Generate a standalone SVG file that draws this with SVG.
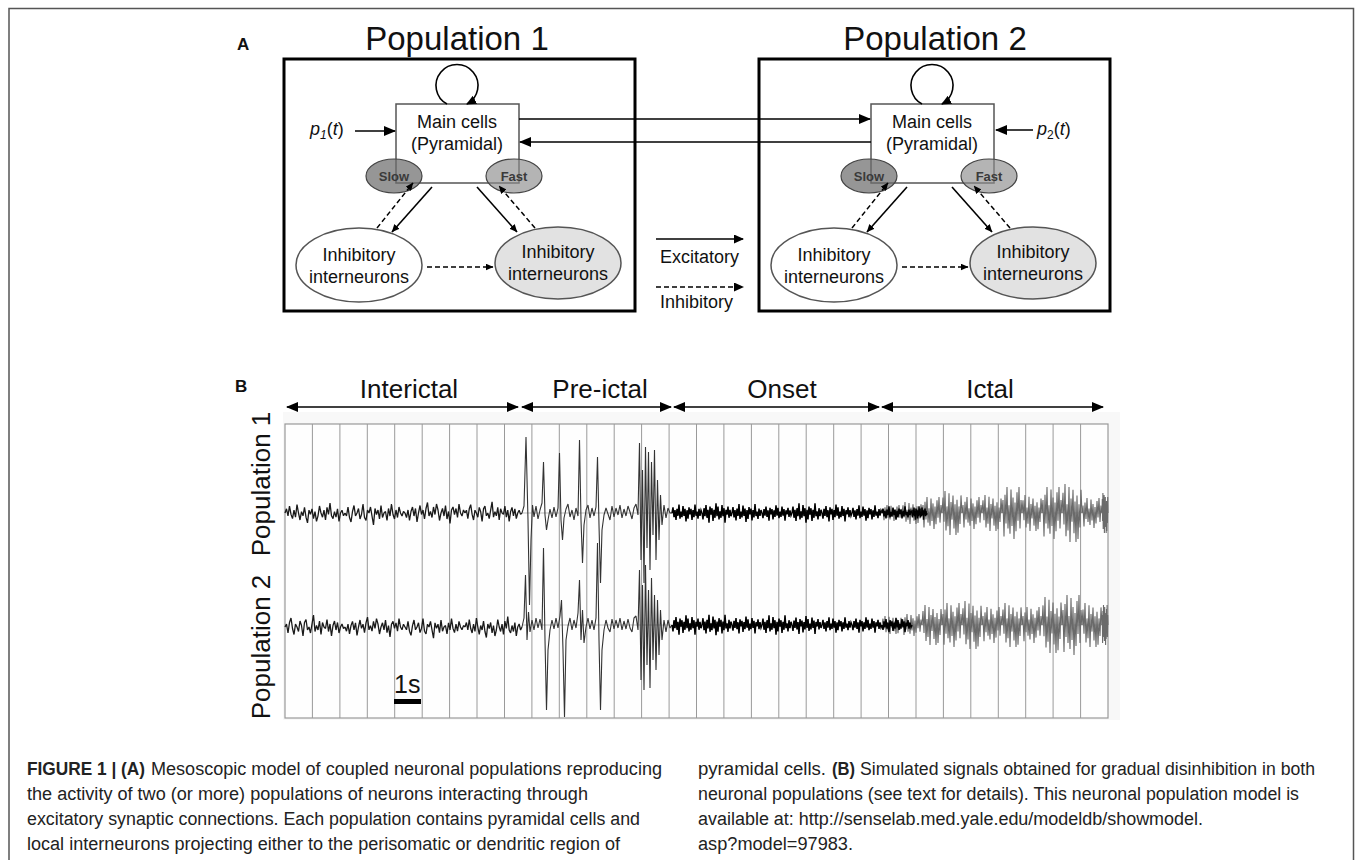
<svg xmlns="http://www.w3.org/2000/svg" xmlns:xlink="http://www.w3.org/1999/xlink" width="1355" height="860" viewBox="0 0 1355 860">
<style>
  text { font-family: "Liberation Sans", Arial, sans-serif; fill: #111; }
  .panel { font-weight: bold; font-size: 17px; }
  .title { font-size: 33px; text-anchor: middle; }
  .t18 { font-size: 18px; }
  .mid { text-anchor: middle; }
  .sf { font-size: 13px; font-weight: bold; fill: #3a3a3a; text-anchor: middle; }
  .phase { font-size: 26px; text-anchor: middle; }
  .cap { font-size: 18px; fill: #222; }
  .capb { font-size: 18px; fill: #222; font-weight: bold; }
  .popbox { fill: none; stroke: #000; stroke-width: 3; }
  .main { fill: #fff; stroke: #555; stroke-width: 1.5; }
  .inh { stroke: #555; stroke-width: 1.5; }
  .solid { fill: none; stroke: #000; stroke-width: 1.6; }
  .dash { fill: none; stroke: #000; stroke-width: 1.5; stroke-dasharray: 5 3; }
  .grid { fill: none; stroke: #9a9a9a; stroke-width: 1; }
  .tr { fill: none; stroke: #1a1a1a; stroke-width: 1.3; stroke-linejoin: bevel; }
  .sp { fill: none; stroke: #333; stroke-width: 1.1; stroke-linejoin: bevel; }
  .on { fill: none; stroke: #000; stroke-width: 1.5; }
  .ic { fill: none; stroke: #6a6a6a; stroke-width: 1.1; }
</style>
<defs>
  <marker id="ahL" markerUnits="userSpaceOnUse" markerWidth="12" markerHeight="10" refX="11" refY="5" orient="auto"><path d="M0,0 L12,5 L0,10 z" fill="#000"/></marker>
  <marker id="ahM" markerUnits="userSpaceOnUse" markerWidth="10" markerHeight="9" refX="9" refY="4.5" orient="auto"><path d="M0,0 L10,4.5 L0,9 z" fill="#000"/></marker>
  <marker id="ahS" markerUnits="userSpaceOnUse" markerWidth="8" markerHeight="7" refX="7.5" refY="3.5" orient="auto"><path d="M0,0 L8,3.5 L0,7 z" fill="#000"/></marker>
  <marker id="ahD" markerUnits="userSpaceOnUse" markerWidth="12" markerHeight="10" refX="11" refY="5" orient="auto-start-reverse"><path d="M0,0 L12,5 L0,10 z" fill="#000"/></marker>
  <path id="nA" vector-effect="non-scaling-stroke" d="M0,0 L1.5,-3 3,2 4.5,-5 6,1 7.5,4 9,-2 10.5,3 12,-6 13.5,0 15,5 16.5,-1 18,2 19.5,-4 21,3 22.5,7 24,-2 25.5,1 27,-3 28.5,4 30,-1 31.5,6 33,2 34.5,-5 36,0 37.5,3 39,-2 40.5,5 42,-4 43.5,1 45,-7 46.5,2 48,4 49.5,-1 51,3 52.5,-3 54,6 55.5,0 57,-2 58.5,2 60,0"/>
  <path id="nB" vector-effect="non-scaling-stroke" d="M0,0 L1.5,2 3,-4 4.5,3 6,6 7.5,-1 9,-5 10.5,2 12,0 13.5,-3 15,4 16.5,1 18,-6 19.5,3 21,5 22.5,-2 24,0 25.5,-4 27,2 28.5,8 30,-3 31.5,1 33,-2 34.5,4 36,-5 37.5,3 39,0 40.5,-1 42,5 43.5,-3 45,2 46.5,-6 48,1 49.5,4 51,-2 52.5,3 54,-4 55.5,0 57,2 58.5,-1 60,0"/>
  <path id="nC" vector-effect="non-scaling-stroke" d="M0,0 L1,-4 2,3 3,-2 4,5 5,-3 6,2 7,-6 8,4 9,-1 10,3 11,-5 12,2 13,-3 14,6 15,-2 16,4 17,-4 18,1 19,-3 20,5 21,-2 22,3 23,-6 24,2 25,-1 26,4 27,-3 28,2 29,-2 30,0"/>
  <path id="nD" vector-effect="non-scaling-stroke" d="M0,0 L1,-0.5 2,0.9 3,-0.7 4,0.4 5,-1 6,0.6 7,-0.3 8,0.8 9,-0.9 10,0.5 11,-0.6 12,1 13,-0.4 14,0.7 15,-0.8 16,0.3 17,-1 18,0.6 19,-0.5 20,0"/>
  <path id="nE" vector-effect="non-scaling-stroke" d="M0,0 L1,0.7 2,-0.4 3,1 4,-0.8 5,0.3 6,-0.6 7,0.9 8,-1 9,0.5 10,-0.3 11,0.8 12,-0.7 13,0.4 14,-1 15,0.6 16,-0.9 17,0.3 18,-0.5 19,0.8 20,0"/>
</defs>

<rect x="0" y="0" width="1355" height="860" fill="#fff"/>
<g id="frame"><path d="M9,860 V8.5 H1353.5 V860" fill="none" stroke="#555" stroke-width="1.5"/></g>

<!-- Panel A -->
<text class="panel" x="237" y="50">A</text>

<g id="pop1-box"><rect class="popbox" x="284" y="59" width="351" height="252"/><text class="title" x="457" y="50">Population 1</text></g>
<g id="pop2-box"><rect class="popbox" x="759" y="59" width="351" height="252"/><text class="title" x="935" y="50">Population 2</text></g>

<g id="pop1-main"><rect class="main" x="396" y="104" width="123" height="79"/><text class="t18 mid" x="457" y="128">Main cells</text><text class="t18 mid" x="457" y="150">(Pyramidal)</text></g>
<g id="pop2-main"><rect class="main" x="871" y="104" width="123" height="79"/><text class="t18 mid" x="932" y="128">Main cells</text><text class="t18 mid" x="932" y="150">(Pyramidal)</text></g>

<g id="pop1-slow"><ellipse cx="394" cy="176" rx="28" ry="17" fill="#6e6e6e" fill-opacity="0.72" stroke="#444" stroke-width="1.2"/><text class="sf" x="394" y="181">Slow</text></g>
<g id="pop1-fast"><ellipse cx="514" cy="176" rx="28" ry="17" fill="#8c8c8c" fill-opacity="0.65" stroke="#444" stroke-width="1.2"/><text class="sf" x="514" y="181">Fast</text></g>
<g id="pop2-slow"><ellipse cx="869" cy="176" rx="28" ry="17" fill="#6e6e6e" fill-opacity="0.72" stroke="#444" stroke-width="1.2"/><text class="sf" x="869" y="181">Slow</text></g>
<g id="pop2-fast"><ellipse cx="989" cy="176" rx="28" ry="17" fill="#8c8c8c" fill-opacity="0.65" stroke="#444" stroke-width="1.2"/><text class="sf" x="989" y="181">Fast</text></g>

<g id="pop1-inh-slow"><ellipse class="inh" cx="359" cy="265" rx="63" ry="37" fill="#fff"/><text class="t18 mid" x="359" y="261">Inhibitory</text><text class="t18 mid" x="359" y="283">interneurons</text></g>
<g id="pop1-inh-fast"><ellipse class="inh" cx="558" cy="263" rx="63" ry="36" fill="#e2e2e2"/><text class="t18 mid" x="558" y="258">Inhibitory</text><text class="t18 mid" x="558" y="280">interneurons</text></g>
<g id="pop2-inh-slow"><ellipse class="inh" cx="834" cy="265" rx="63" ry="37" fill="#fff"/><text class="t18 mid" x="834" y="261">Inhibitory</text><text class="t18 mid" x="834" y="283">interneurons</text></g>
<g id="pop2-inh-fast"><ellipse class="inh" cx="1033" cy="263" rx="63" ry="36" fill="#e2e2e2"/><text class="t18 mid" x="1033" y="258">Inhibitory</text><text class="t18 mid" x="1033" y="280">interneurons</text></g>

<g id="input-p1"><text class="t18" x="310" y="135"><tspan font-style="italic">p</tspan><tspan font-style="italic" font-size="12" dy="4">1</tspan><tspan dy="-4">(</tspan><tspan font-style="italic">t</tspan>)</text></g>
<g id="input-p2"><text class="t18" x="1037" y="135"><tspan font-style="italic">p</tspan><tspan font-size="12" dy="4">2</tspan><tspan dy="-4">(</tspan><tspan font-style="italic">t</tspan>)</text></g>

<g id="connectors">
  <path class="solid" d="M447,104 A21,21 0 1 1 467,104" marker-end="url(#ahM)"/>
  <path class="solid" d="M922,104 A21,21 0 1 1 942,104" marker-end="url(#ahM)"/>
  <line class="solid" x1="355" y1="131" x2="395" y2="131" marker-end="url(#ahL)"/>
  <line class="solid" x1="1033" y1="130" x2="996" y2="130" marker-end="url(#ahL)"/>
  <line class="solid" x1="519" y1="119" x2="870" y2="119" marker-end="url(#ahL)"/>
  <line class="solid" x1="871" y1="142" x2="520" y2="142" marker-end="url(#ahL)"/>
  <line class="solid" x1="432" y1="187" x2="392" y2="232" marker-end="url(#ahS)"/>
  <line class="dash" x1="377" y1="228" x2="413" y2="183" marker-end="url(#ahS)"/>
  <line class="solid" x1="477" y1="187" x2="517" y2="232" marker-end="url(#ahS)"/>
  <line class="dash" x1="535" y1="228" x2="499" y2="186" marker-end="url(#ahS)"/>
  <line class="dash" x1="427" y1="267" x2="493" y2="267" marker-end="url(#ahS)"/>
  <line class="solid" x1="907" y1="187" x2="867" y2="232" marker-end="url(#ahS)"/>
  <line class="dash" x1="852" y1="228" x2="888" y2="183" marker-end="url(#ahS)"/>
  <line class="solid" x1="952" y1="187" x2="992" y2="232" marker-end="url(#ahS)"/>
  <line class="dash" x1="1010" y1="228" x2="974" y2="186" marker-end="url(#ahS)"/>
  <line class="dash" x1="902" y1="267" x2="968" y2="267" marker-end="url(#ahS)"/>
</g>

<g id="legend">
  <line class="solid" x1="656" y1="239" x2="743" y2="239" marker-end="url(#ahM)"/>
  <text class="t18" x="660" y="263">Excitatory</text>
  <line class="dash" x1="656" y1="287" x2="743" y2="287" marker-end="url(#ahM)"/>
  <text class="t18" x="660" y="308">Inhibitory</text>
</g>

<!-- Panel B -->
<text class="panel" x="235" y="392">B</text>
<g id="phases">
  <text class="phase" x="409" y="398">Interictal</text>
  <text class="phase" x="600" y="398">Pre-ictal</text>
  <text class="phase" x="782" y="398">Onset</text>
  <text class="phase" x="990" y="398">Ictal</text>
  <line class="solid" x1="287" y1="407" x2="518" y2="407" marker-start="url(#ahD)" marker-end="url(#ahD)"/>
  <line class="solid" x1="522" y1="407" x2="671" y2="407" marker-start="url(#ahD)" marker-end="url(#ahD)"/>
  <line class="solid" x1="674" y1="407" x2="879" y2="407" marker-start="url(#ahD)" marker-end="url(#ahD)"/>
  <line class="solid" x1="882" y1="407" x2="1103" y2="407" marker-start="url(#ahD)" marker-end="url(#ahD)"/>
</g>

<g id="plot">
  <rect x="283" y="412" width="837" height="308" fill="#f8f8f8"/>
  <rect x="285" y="424" width="823" height="294" fill="#fefefe" stroke="#999" stroke-width="1.2"/>
  <path class="grid" d="M312.4,424V718M339.9,424V718M367.3,424V718M394.7,424V718M422.2,424V718M449.6,424V718M477,424V718M504.5,424V718M531.9,424V718M559.3,424V718M586.8,424V718M614.2,424V718M641.6,424V718M669.1,424V718M696.5,424V718M723.9,424V718M751.4,424V718M778.8,424V718M806.2,424V718M833.7,424V718M861.1,424V718M888.5,424V718M916,424V718M943.4,424V718M970.8,424V718M998.3,424V718M1025.7,424V718M1053.1,424V718M1080.6,424V718"/>
  <line x1="522" y1="513" x2="1108" y2="513" stroke="#aaa" stroke-width="0.8"/>
  <line x1="522" y1="625" x2="1108" y2="625" stroke="#aaa" stroke-width="0.8"/>

  <text transform="translate(270,484) rotate(-90)" font-size="26" text-anchor="middle">Population 1</text>
  <text transform="translate(270,647) rotate(-90)" font-size="26" text-anchor="middle">Population 2</text>

  <g id="trace1">
    <use href="#nA" class="tr" transform="translate(285,513) scale(1,1.4)"/>
    <use href="#nB" class="tr" transform="translate(345,513) scale(1,1.5)"/>
    <use href="#nA" class="tr" transform="translate(405,513) scale(1,-1.5)"/>
    <use href="#nB" class="tr" transform="translate(465,513) scale(0.95,-1.4)"/>
    <path class="sp" d="M522,513 L524,506 L526,437 L528,520 L529.5,605 L531,540 L532.5,505 L534,517 L536,506 L538,519 L540,510 L542,503 L543.5,462 L545,515 L546.5,530 L548,520 L550,509 L552,518 L554,507 L556,517 L558,508 L559.5,453 L561,520 L562.5,540 L564,518 L566,509 L568,504 L570,517 L572,510 L574,520 L576,508 L578,516 L579.5,440 L581,520 L582.5,563 L584,525 L586,510 L588,505 L590,518 L592,508 L594,516 L596,507 L597.5,457 L599,525 L600.5,583 L602,530 L604,515 L606,508 L608,514 L610,520 L612,506 L614,517 L616,508 L618,515 L620,505 L622,518 L624,509 L626,516 L628,506 L630,512 L632,519 L634,508 L636,504 L638,515 L639.5,443 L641,560 L642.5,470 L644,583 L645.5,447 L647,548 L648.5,452 L650,570 L651.5,462 L653,535 L654.5,450 L656,560 L657.5,480 L659,540 L660.5,495 L662,525 L664,505 L666,518 L668,508 L670,513 L672,513"/>
    <use href="#nC" class="on" transform="translate(672,513) scale(1,1.4)"/>
    <use href="#nC" class="on" transform="translate(702,513) scale(1,-1.6)"/>
    <use href="#nC" class="on" transform="translate(732,513) scale(1,1.5)"/>
    <use href="#nC" class="on" transform="translate(762,513) scale(1,-1.3)"/>
    <use href="#nC" class="on" transform="translate(792,513) scale(1,1.6)"/>
    <use href="#nC" class="on" transform="translate(822,513) scale(1,-1.4)"/>
    <use href="#nC" class="on" transform="translate(852,513) scale(1,1.3)"/>
    <use href="#nD" class="ic" transform="translate(882,513) scale(1,8)"/>
    <use href="#nE" class="ic" transform="translate(902,513) scale(1,-11)"/>
    <use href="#nD" class="ic" transform="translate(922,513) scale(1,16)"/>
    <use href="#nE" class="ic" transform="translate(942,513) scale(1,-22)"/>
    <use href="#nD" class="ic" transform="translate(962,513) scale(1,16)"/>
    <use href="#nE" class="ic" transform="translate(982,513) scale(1,-18)"/>
    <use href="#nD" class="ic" transform="translate(1002,513) scale(1,26)"/>
    <use href="#nE" class="ic" transform="translate(1022,513) scale(1,-18)"/>
    <use href="#nD" class="ic" transform="translate(1042,513) scale(1,26)"/>
    <use href="#nE" class="ic" transform="translate(1062,513) scale(1,-29)"/>
    <use href="#nD" class="ic" transform="translate(1082,513) scale(1,15)"/>
    <use href="#nE" class="ic" transform="translate(1102,513) scale(0.3,-20)"/>
    <use href="#nC" class="on" transform="translate(882,513) scale(1,1.1)"/>
    <use href="#nC" class="on" transform="translate(912,513) scale(0.5,-1.1)"/>
  </g>

  <g id="trace2">
    <use href="#nB" class="tr" transform="translate(285,627) scale(1,-1.5)"/>
    <use href="#nA" class="tr" transform="translate(345,627) scale(1,-1.4)"/>
    <use href="#nB" class="tr" transform="translate(405,627) scale(1,1.4)"/>
    <use href="#nA" class="tr" transform="translate(465,627) scale(0.95,1.5)"/>
    <path class="sp" d="M522,627 L524,618 L525.5,575 L527,640 L528.5,612 L530,632 L532,620 L534,630 L536,618 L538,628 L540,619 L542,630 L543.5,548 L545,640 L546.5,710 L548,650 L550,630 L552,620 L554,629 L556,618 L558,628 L560,616 L561.5,600 L563,650 L564.5,717 L566,640 L568,626 L570,618 L572,630 L574,620 L576,628 L578,613 L579.5,580 L581,640 L582.5,610 L584,643 L586,627 L588,618 L590,629 L592,620 L594,630 L596,618 L597.5,543 L599,640 L600.5,710 L602,650 L604,630 L606,620 L608,628 L610,632 L612,619 L614,629 L616,620 L618,628 L620,618 L622,630 L624,621 L626,629 L628,619 L630,628 L632,632 L634,618 L636,616 L638,630 L639.5,570 L641,680 L642.5,585 L644,690 L645.5,565 L647,665 L648.5,590 L650,688 L651.5,578 L653,660 L654.5,595 L656,670 L657.5,600 L659,655 L660.5,610 L662,640 L664,620 L666,632 L668,620 L670,628 L672,625"/>
    <use href="#nC" class="on" transform="translate(672,625) scale(1,-1.6)"/>
    <use href="#nC" class="on" transform="translate(702,625) scale(1,1.7)"/>
    <use href="#nC" class="on" transform="translate(732,625) scale(1,-1.4)"/>
    <use href="#nC" class="on" transform="translate(762,625) scale(1,1.6)"/>
    <use href="#nC" class="on" transform="translate(792,625) scale(1,-1.5)"/>
    <use href="#nC" class="on" transform="translate(822,625) scale(1,1.3)"/>
    <use href="#nC" class="on" transform="translate(852,625) scale(1,-1.3)"/>
    <use href="#nE" class="ic" transform="translate(882,625) scale(1,-9)"/>
    <use href="#nD" class="ic" transform="translate(902,625) scale(1,11)"/>
    <use href="#nE" class="ic" transform="translate(922,625) scale(1,-20)"/>
    <use href="#nD" class="ic" transform="translate(942,625) scale(1,22)"/>
    <use href="#nE" class="ic" transform="translate(962,625) scale(1,-24)"/>
    <use href="#nD" class="ic" transform="translate(982,625) scale(1,18)"/>
    <use href="#nE" class="ic" transform="translate(1002,625) scale(1,-22)"/>
    <use href="#nD" class="ic" transform="translate(1022,625) scale(1,18)"/>
    <use href="#nE" class="ic" transform="translate(1042,625) scale(1,-28)"/>
    <use href="#nD" class="ic" transform="translate(1062,625) scale(1,30)"/>
    <use href="#nE" class="ic" transform="translate(1082,625) scale(1,-22)"/>
    <use href="#nD" class="ic" transform="translate(1102,625) scale(0.3,20)"/>
    <use href="#nC" class="on" transform="translate(882,625) scale(1,-1.2)"/>
  </g>

  <g id="scalebar">
    <text x="394" y="693" font-size="25">1s</text>
    <rect x="394" y="699" width="27" height="5" fill="#000"/>
  </g>
</g>

<g id="caption">
  <text class="capb" x="27" y="775" textLength="118" lengthAdjust="spacingAndGlyphs">FIGURE 1 | (A)</text>
  <text class="cap" x="151" y="775" textLength="511" lengthAdjust="spacingAndGlyphs">Mesoscopic model of coupled neuronal populations reproducing</text>
  <text class="cap" x="27" y="800" textLength="561" lengthAdjust="spacingAndGlyphs">the activity of two (or more) populations of neurons interacting through</text>
  <text class="cap" x="27" y="825" textLength="613" lengthAdjust="spacingAndGlyphs">excitatory synaptic connections. Each population contains pyramidal cells and</text>
  <text class="cap" x="27" y="850" textLength="593" lengthAdjust="spacingAndGlyphs">local interneurons projecting either to the perisomatic or dendritic region of</text>
  <text class="cap" x="698" y="775" textLength="128" lengthAdjust="spacingAndGlyphs">pyramidal cells.</text>
  <text class="capb" x="832" y="775" textLength="23" lengthAdjust="spacingAndGlyphs">(B)</text>
  <text class="cap" x="860" y="775" textLength="455" lengthAdjust="spacingAndGlyphs">Simulated signals obtained for gradual disinhibition in both</text>
  <text class="cap" x="698" y="800" textLength="601" lengthAdjust="spacingAndGlyphs">neuronal populations (see text for details). This neuronal population model is</text>
  <text class="cap" x="698" y="825" textLength="505" lengthAdjust="spacingAndGlyphs">available at: http://senselab.med.yale.edu/modeldb/showmodel.</text>
  <text class="cap" x="698" y="850" textLength="155" lengthAdjust="spacingAndGlyphs">asp?model=97983.</text>
</g>
</svg>
